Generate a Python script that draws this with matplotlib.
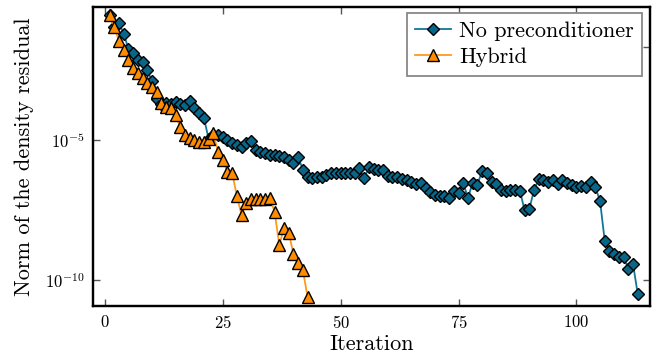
import numpy as np
import matplotlib
matplotlib.use("Agg")
import matplotlib.pyplot as plt
from matplotlib.ticker import NullLocator

plt.rcParams['font.family'] = 'serif'
plt.rcParams['font.serif'] = ['cmr10']
plt.rcParams['mathtext.fontset'] = 'cm'
plt.rcParams['axes.formatter.use_mathtext'] = True

# log10 of the residual norm
no_prec_log = [
    -0.55, -0.95, -0.82, -1.20, -1.74, -1.88, -2.14, -2.22, -2.50, -2.90,
    -3.53, -3.70, -3.68, -3.72, -3.65, -3.72, -3.75, -3.60, -3.87, -4.02,
    -4.20, -4.95, -4.82, -4.82, -4.88, -5.00, -5.12, -5.18, -5.24, -5.10,
    -5.02, -5.36, -5.42, -5.48, -5.54, -5.54, -5.57, -5.60, -5.71, -5.83,
    -5.60, -6.07, -6.31, -6.37, -6.33, -6.31, -6.25, -6.19, -6.19, -6.19,
    -6.19, -6.19, -6.19, -6.01, -6.37, -5.98, -6.05, -6.07, -6.07, -6.29,
    -6.33, -6.33, -6.40, -6.43, -6.49, -6.57, -6.55, -6.73, -6.85, -6.96,
    -7.00, -7.00, -7.08, -6.81, -6.88, -6.52, -7.08, -6.52, -6.61, -6.10,
    -6.17, -6.49, -6.57, -6.79, -6.81, -6.79, -6.79, -6.81, -7.50, -7.48,
    -6.79, -6.40, -6.43, -6.49, -6.43, -6.57, -6.43, -6.52, -6.61, -6.67,
    -6.64, -6.67, -6.49, -6.69, -7.17, -8.60, -8.95, -9.07, -9.19, -9.17,
    -9.62, -9.43, -10.50,
]
hybrid_log = [
    -0.55, -0.97, -1.45, -1.80, -2.15, -2.44, -2.60, -2.80, -2.95, -3.10,
    -3.27, -3.69, -3.83, -3.87, -4.11, -4.55, -4.82, -4.94, -5.00, -5.06,
    -5.06, -4.97, -4.76, -5.42, -5.71, -6.13, -6.17, -7.00, -7.68, -7.26,
    -7.12, -7.12, -7.12, -7.12, -7.08, -7.56, -8.75, -8.15, -8.31, -9.07,
    -9.38, -9.64, -10.62,
]

it_no_prec = np.arange(1, len(no_prec_log) + 1)
it_hybrid = np.arange(1, len(hybrid_log) + 1)
no_prec = 10.0 ** np.array(no_prec_log)
hybrid = 10.0 ** np.array(hybrid_log)

fig = plt.figure(figsize=(6.52, 3.56), dpi=100)
ax = fig.add_axes([93 / 652, 50 / 356, 557 / 652, 299 / 356])

ax.plot(it_no_prec, no_prec, color='#137699', lw=1.3, marker='D', ms=6.4,
        mfc='#0a6688', mec='black', mew=1.0, label='No preconditioner')
ax.plot(it_hybrid, hybrid, color='#ff9a1a', lw=1.3, marker='^', ms=8.2,
        mfc='#ff8c00', mec='black', mew=1.0, label='Hybrid')

ax.set_yscale('log')
ax.set_xlim(-2.5, 115.6)
ax.set_ylim(10 ** -10.93, 10 ** -0.25)
ax.set_xticks([0, 25, 50, 75, 100])
ax.set_yticks([1e-10, 1e-5])
ax.yaxis.set_minor_locator(NullLocator())

ax.set_xlabel('Iteration', fontsize=16, labelpad=2)
ax.set_ylabel('Norm of the density residual', fontsize=16, labelpad=8)

for s in ax.spines.values():
    s.set_linewidth(1.6)
ax.tick_params(direction='in', length=5, width=1.0, color='#555555',
               labelsize=12, top=True, right=False, pad=6)

# right-hand ticks
ax2 = ax.twinx()
ax2.set_yscale('log')
ax2.set_ylim(ax.get_ylim())
ax2.set_yticks([1e-10, 10 ** -1.68])
ax2.yaxis.set_minor_locator(NullLocator())
ax2.set_yticklabels([])
ax2.tick_params(direction='in', length=5, width=1.0, color='#555555')
for s in ax2.spines.values():
    s.set_linewidth(1.6)

leg = ax.legend(loc='upper right', bbox_to_anchor=(0.9856, 0.98),
                borderaxespad=0, fontsize=16, fancybox=False,
                handlelength=1.6, handletextpad=0.35, labelspacing=0.3,
                borderpad=0.38, framealpha=1)
leg.get_frame().set_edgecolor('#888888')
leg.get_frame().set_linewidth(1.3)

fig.savefig('out.png', dpi=100)
